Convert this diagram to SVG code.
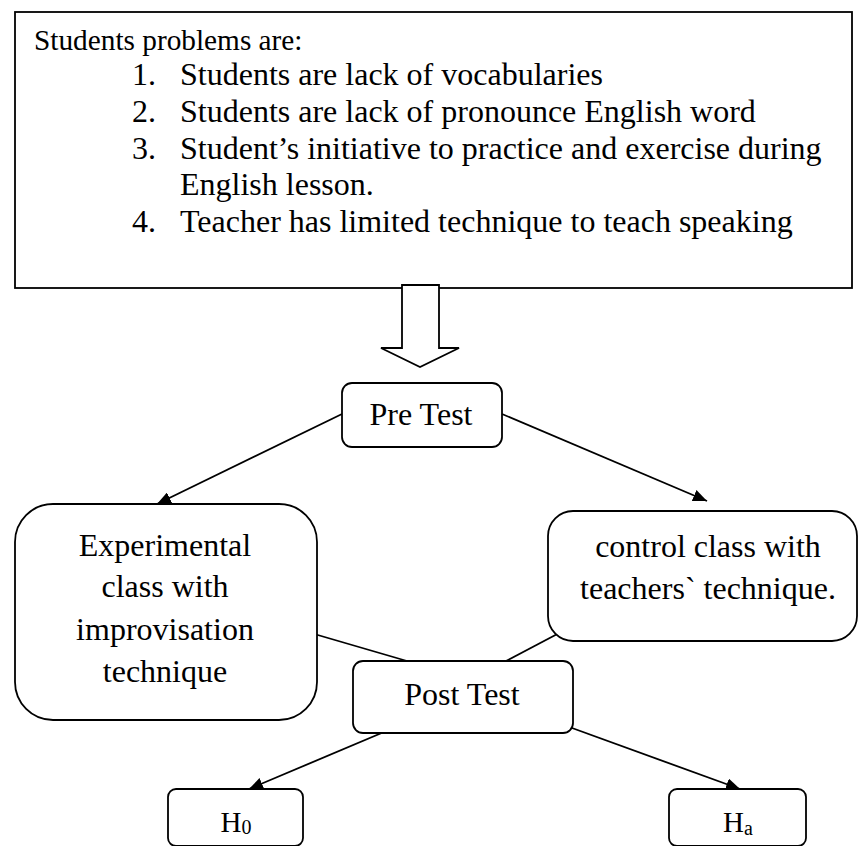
<svg xmlns="http://www.w3.org/2000/svg" width="859" height="846" viewBox="0 0 859 846">
<defs>
<style>
.box{fill:#fff;stroke:#000;stroke-width:1.8}
.ln{fill:none;stroke:#000;stroke-width:1.8}
text{font-family:"Liberation Serif","Times New Roman",serif;fill:#000}
.t{font-size:32px}
.c{text-anchor:middle}
</style>
<marker id="ah" viewBox="0 0 14 12" refX="14" refY="6" markerWidth="14" markerHeight="12" markerUnits="userSpaceOnUse" orient="auto">
<path d="M0,0 L14,6 L0,12 z" fill="#000"/>
</marker>
</defs>
<rect width="859" height="846" fill="#fff"/>
<g id="problems">
<rect class="box" x="15" y="12" width="837" height="276"/>
<text x="34" y="50" font-size="29.3">Students problems are:</text>
<g class="t">
<text x="132" y="85">1.</text><text x="180" y="85">Students are lack of vocabularies</text>
<text x="132" y="122">2.</text><text x="180" y="122">Students are lack of pronounce English word</text>
<text x="132" y="159">3.</text><text x="180" y="159">Student’s initiative to practice and exercise during</text>
<text x="180" y="195">English lesson.</text>
<text x="132" y="232">4.</text><text x="180" y="232">Teacher has limited technique to teach speaking</text>
</g>
</g>
<g id="connectors">
<polygon class="box" points="402,285 439,285 439,348 459,348 420,367 381,348 402,348"/>
<line class="ln" x1="342" y1="414" x2="157" y2="504" marker-end="url(#ah)"/>
<line class="ln" x1="502" y1="414" x2="707" y2="501" marker-end="url(#ah)"/>
<line class="ln" x1="304" y1="631" x2="407" y2="661"/>
<line class="ln" x1="563" y1="631" x2="506" y2="661"/>
<line class="ln" x1="410" y1="721" x2="249" y2="789" marker-end="url(#ah)"/>
<line class="ln" x1="550" y1="720" x2="740" y2="789" marker-end="url(#ah)"/>
</g>
<g id="pretest">
<rect class="box" x="342" y="383" width="160" height="64" rx="10"/>
<text class="t c" x="421" y="425">Pre Test</text>
</g>
<g id="experimental">
<rect class="box" x="15" y="504" width="302" height="216" rx="38"/>
<text class="t c" x="165" y="556">Experimental</text>
<text class="t c" x="165" y="597">class with</text>
<text class="t c" x="165" y="640">improvisation</text>
<text class="t c" x="165" y="682">technique</text>
</g>
<g id="control">
<rect class="box" x="548" y="511" width="309" height="130" rx="25"/>
<text class="t c" x="708" y="557">control class with</text>
<text class="t c" x="708" y="599">teachers` technique.</text>
</g>
<g id="posttest">
<rect class="box" x="353" y="661" width="220" height="72" rx="10"/>
<text class="t c" x="462" y="705">Post Test</text>
</g>
<g id="h0">
<rect class="box" x="168" y="789" width="135" height="57" rx="8"/>
<text class="c" x="236" y="832" font-size="29">H<tspan font-size="20" dy="2">0</tspan></text>
</g>
<g id="ha">
<rect class="box" x="669" y="789" width="137" height="57" rx="8"/>
<text class="c" x="738" y="832" font-size="29">H<tspan font-size="20" dy="3">a</tspan></text>
</g>
</svg>
